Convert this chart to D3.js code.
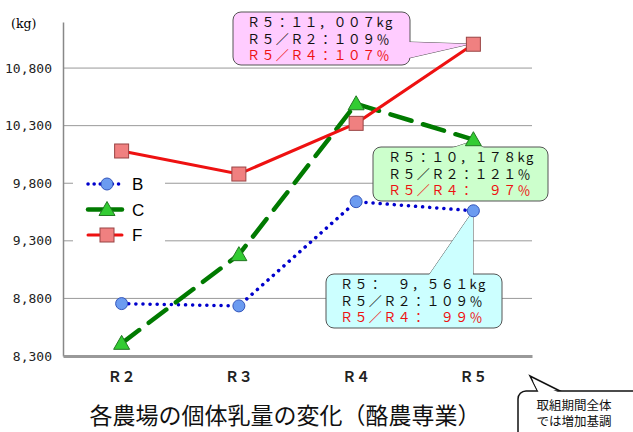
<!DOCTYPE html>
<html>
<head>
<meta charset="utf-8">
<script src="https://cdnjs.cloudflare.com/ajax/libs/d3/7.8.5/d3.min.js"></script>
<style>
  body { margin: 0; background: #fff; }
  text { font-family: "Noto Sans CJK JP", sans-serif; }
</style>
</head>
<body>
<div class="chart"></div>
<script>
// data
const years = ["Ｒ２", "Ｒ３", "Ｒ４", "Ｒ５"]
const seriesB = [8755, 8735, 9640, 9561]
const seriesC = [8410, 9180, 10490, 10178]
const seriesF = [10080, 9880, 10320, 11007]
const yTicks = [8300, 8800, 9300, 9800, 10300, 10800]
const noteF = ["Ｒ５：１１，００７kg", "Ｒ５／Ｒ２：１０９％", "Ｒ５／Ｒ４：１０７％"]
const noteC = ["Ｒ５：１０，１７８kg", "Ｒ５／Ｒ２：１２１％", "Ｒ５／Ｒ４：　９７％"]
const noteB = ["Ｒ５：　９，５６１kg", "Ｒ５／Ｒ２：１０９％", "Ｒ５／Ｒ４：　９９％"]
const comment = ["取組期間全体", "では増加基調"]
const title = "各農場の個体乳量の変化（酪農専業）"

const w = 633
const h = 432
const plotL = 63, plotR = 532, plotT = 22, plotB = 356

const svg = d3.select(".chart")
  .append("svg")
  .attr("width", w)
  .attr("height", h)

const xScale = d3.scaleBand().domain(years).range([plotL, plotR])
const cx = d => xScale(d) + xScale.bandwidth() / 2
const yScale = d3.scaleLinear().domain([8300, 11200]).range([plotB, plotT])

// gridlines
svg.selectAll(".grid")
  .data(yTicks.slice(1))
  .enter()
  .append("line")
  .attr("x1", plotL).attr("x2", plotR)
  .attr("y1", d => yScale(d)).attr("y2", d => yScale(d))
  .attr("stroke", "#999").attr("stroke-width", 1)

// y axis
const yAxis = d3.axisLeft(yScale).tickValues(yTicks).tickSize(0).tickPadding(11)
  .tickFormat(d3.format(","))
const gy = svg.append("g").attr("transform", "translate(" + plotL + ",0)").call(yAxis)
gy.select(".domain").attr("stroke", "#888").attr("stroke-width", 1.5)
gy.selectAll("text").style("font-size", "13px").attr("fill", "#222")
  .style("font-family", "'DejaVu Sans Mono', monospace")

// x axis
const xAxis = d3.axisBottom(xScale).tickSize(0).tickPadding(16)
const gx = svg.append("g").attr("transform", "translate(0," + plotB + ")").call(xAxis)
gx.select(".domain").attr("stroke", "#999").attr("stroke-width", 3)
gx.selectAll("text").style("font-size", "14px").style("font-weight", "bold").attr("fill", "#222")
  .style("font-family", "'Noto Sans CJK JP', sans-serif")

svg.append("text").attr("x", 11).attr("y", 28).text("(kg)")
  .style("font-family", "'DejaVu Serif', serif").style("font-size", "12.5px")

// legend box (white, covers gridlines)
svg.append("rect").attr("x", 73).attr("y", 170).attr("width", 92).attr("height", 80).attr("fill", "#fff")

const series = [
  { name: "B", values: seriesB, color: "#0000cc", width: 3.5, dash: "0.1 7", marker: "circle", fill: "#6b9bf0", mstroke: "#3355bb" },
  { name: "C", values: seriesC, color: "#007a00", width: 4.5, dash: "22 12", marker: "triangle", fill: "#33cc33", mstroke: "#227722" },
  { name: "F", values: seriesF, color: "#ee1111", width: 3, dash: null, marker: "square", fill: "#f08080", mstroke: "#994444" }
]

const line = d3.line().x((d, i) => cx(years[i])).y(d => yScale(d))

function marker(g, s, x, y) {
  if (s.marker === "circle") {
    g.append("circle").attr("cx", x).attr("cy", y).attr("r", 6)
      .attr("fill", s.fill).attr("stroke", s.mstroke).attr("stroke-width", 1)
  } else if (s.marker === "triangle") {
    g.append("path").attr("d", "M" + x + "," + (y - 8) + "L" + (x + 8) + "," + (y + 6) + "L" + (x - 8) + "," + (y + 6) + "Z")
      .attr("fill", s.fill).attr("stroke", s.mstroke).attr("stroke-width", 1)
  } else {
    g.append("rect").attr("x", x - 7).attr("y", y - 7).attr("width", 14).attr("height", 14)
      .attr("fill", s.fill).attr("stroke", s.mstroke).attr("stroke-width", 1)
  }
}

series.forEach(s => {
  svg.append("path")
    .attr("d", line(s.values))
    .attr("fill", "none")
    .attr("stroke", s.color)
    .attr("stroke-width", s.width)
    .attr("stroke-linecap", "round")
    .attr("stroke-dasharray", s.dash)
})

// legend
series.forEach((s, i) => {
  const ly = 184 + i * 25.5
  svg.append("line").attr("x1", 88).attr("x2", 122).attr("y1", ly).attr("y2", ly)
    .attr("stroke", s.color).attr("stroke-width", s.width).attr("stroke-linecap", "round")
    .attr("stroke-dasharray", s.name === "B" ? "0.1 6" : null)
  marker(svg, s, 107, ly)
  svg.append("text").attr("x", 132).attr("y", ly + 6).text(s.name)
    .style("font-family", "'Liberation Sans', Arial, sans-serif").style("font-size", "17px")
})

// callouts
function callout(x0, y0, x1, y1, wedge, fill, lines, textX, lineY) {
  const g = svg.append("g")
  g.append("path").attr("d", "M" + wedge.map(p => p.join(",")).join("L") + "Z")
    .attr("fill", fill).attr("stroke", "#555").attr("stroke-width", 1)
  g.append("rect").attr("x", x0).attr("y", y0).attr("width", x1 - x0).attr("height", y1 - y0)
    .attr("rx", 8).attr("fill", fill).attr("stroke", "#555").attr("stroke-width", 1)
  // hide the seam between wedge and box
  g.append("path").attr("d", "M" + wedge.map(p => p.join(",")).join("L") + "Z")
    .attr("fill", fill).attr("stroke", "none")
  lines.forEach((t, i) => {
    g.append("text").attr("x", textX).attr("y", lineY + i * 16.5).text(t)
      .attr("fill", i === 2 ? "#ee1111" : "#111")
      .style("font-size", "13px").style("letter-spacing", "1.4px")
  })
}

callout(233, 12, 410, 65, [[409, 42], [470, 44], [409, 58]], "#ffccff", noteF, 247, 27)
callout(373, 147, 548, 201, [[452, 148], [473, 141], [484, 148]], "#ccffcc", noteC, 388, 162)
callout(326, 274, 502, 328, [[429, 275], [473, 211], [473, 275]], "#ccffff", noteB, 340, 289)

// markers on top
series.forEach(s => {
  s.values.forEach((v, i) => marker(svg, s, cx(years[i]), yScale(v)))
})

// title
svg.append("text").attr("x", 285).attr("y", 424).attr("text-anchor", "middle").text(title)
  .style("font-size", "23px").attr("fill", "#111")

// bottom right comment bubble
const cb = svg.append("g")
cb.append("path").attr("d", "M538,392L530,376L562,392Z").attr("fill", "#fff").attr("stroke", "#111").attr("stroke-width", 1.5)
cb.append("rect").attr("x", 518).attr("y", 391).attr("width", 125).attr("height", 50).attr("rx", 8)
  .attr("fill", "#fff").attr("stroke", "#111").attr("stroke-width", 1.5)
cb.append("path").attr("d", "M539,393L533,381L560,393Z").attr("fill", "#fff")
comment.forEach((t, i) => {
  cb.append("text").attr("x", 574).attr("y", 410 + i * 16).attr("text-anchor", "middle").text(t)
    .style("font-size", "12.5px").attr("fill", "#111")
})
</script>
</body>
</html>
